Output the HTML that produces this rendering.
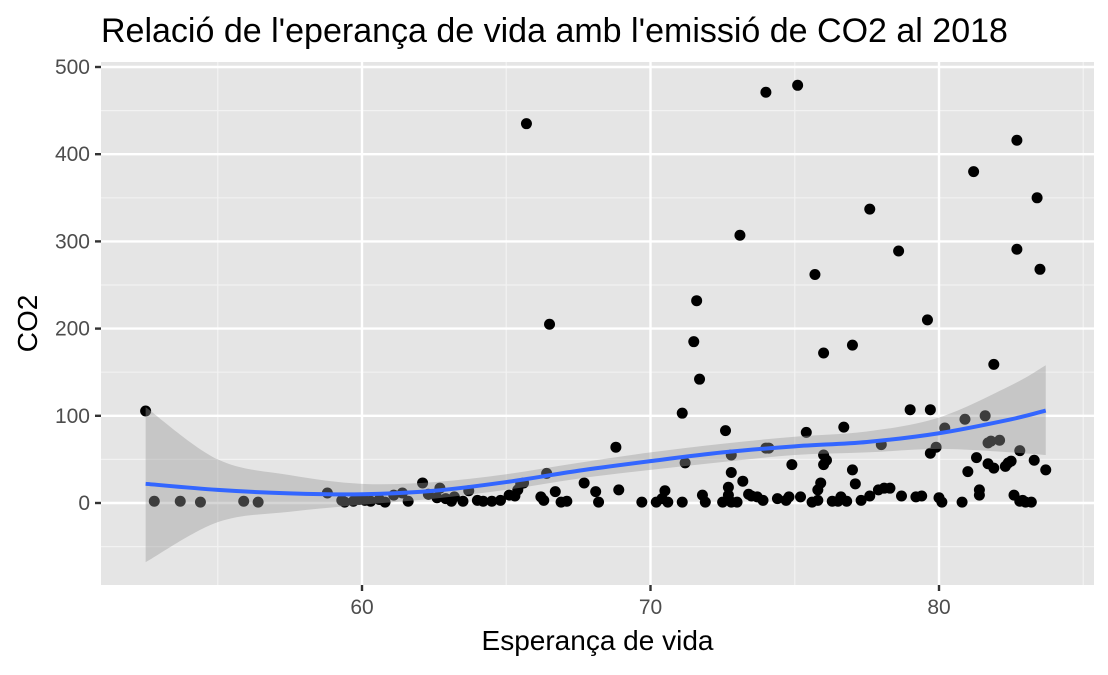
<!DOCTYPE html>
<html><head><meta charset="utf-8"><style>
body{margin:0;background:#fff;width:1108px;height:670px;overflow:hidden}
svg text{font-family:"Liberation Sans",Arial,sans-serif}
</style></head><body>
<svg id="chart" width="1108" height="670" xmlns="http://www.w3.org/2000/svg"></svg>
<script>
const xTicks=[60,70,80];
const yTicks=[0,100,200,300,400,500];
const xs=[52.5,52.8,53.7,54.4,55.9,56.4,58.8,59.3,59.4,59.7,59.9,60.1,60.3,60.6,60.8,61.1,61.4,61.6,62.1,62.3,62.6,62.7,62.9,63.1,63.2,63.5,63.7,64.0,64.2,64.5,64.8,65.1,65.3,65.4,65.5,65.6,65.7,66.2,66.3,66.4,66.5,66.7,66.9,67.1,67.7,68.1,68.2,68.8,68.9,69.7,70.2,70.4,70.5,70.6,71.1,71.1,71.2,71.5,71.6,71.7,71.8,71.9,72.5,72.6,72.7,72.7,72.8,72.8,72.8,73.0,73.1,73.2,73.4,73.5,73.7,73.9,74.0,74.0,74.1,74.4,74.7,74.8,74.9,75.1,75.2,75.4,75.6,75.7,75.8,75.8,75.9,76.0,76.0,76.0,76.1,76.3,76.5,76.6,76.7,76.8,77.0,77.0,77.1,77.3,77.6,77.6,77.9,78.0,78.1,78.3,78.6,78.7,79.0,79.2,79.4,79.6,79.7,79.7,79.9,80.0,80.1,80.2,80.8,80.9,81.0,81.2,81.3,81.4,81.4,81.6,81.7,81.7,81.8,81.9,81.9,82.1,82.3,82.4,82.5,82.6,82.7,82.7,82.8,82.9,83.0,83.2,83.3,83.4,83.5,83.7,82.8];
const ys=[105.5,2,2,1,2,1,11.5,3,1,2,4,3,2,4,1,9,11.5,2,23,10,6,17,5,2,7,2,14,3,2,2,3,9,8,15,22,23,435,7,3,34,205,13,1,2,23,13,1,64,15,1,1,5,14,1,1,103,46,185,232,142,9,1,1,83,9,18,35,55,1,1,307,25,10,8,7,3,471,63,63,5,3,7,44,479,7,81,1,262,3,15,23,44,55,172,49,2,2,7,87,2,181,38,22,3,337,8,15,67,17,17,289,8,107,7,8,210,57,107,64,6,1,86,1,96,36,380,52,15,9,100,69,45,71,159,40,72,42,46,48,9,291,416,2,3,1,1,49,350,268,38,60];
const fitX=[52.5,55,57.5,60,62.5,65,67.5,70,72.5,75,77.5,80,82.5,83.7];
const fitY=[22,15,11,10,14,24,37,48,58,65,70,80,96,106];
const fitLo=[-68,-22,-10,-2,5,15,28,38,47,55,58,62,58,55];
const fitHi=[110,50,32,22,24,33,46,58,68,76,82,98,135,158];

const L=101,R=1094,T=62,B=585;
const sx=v=>362+(v-60)*28.85;
const sy=v=>503-v*0.872;
const svg=document.getElementById('chart');
const NS='http://www.w3.org/2000/svg';
function mk(tag,attrs,parent){const e=document.createElementNS(NS,tag);for(const k in attrs)e.setAttribute(k,attrs[k]);(parent||svg).appendChild(e);return e;}
function smooth(pts,start){
 let d=(start?'M':'L')+pts[0][0]+','+pts[0][1];
 for(let i=0;i<pts.length-1;i++){
  const p0=pts[Math.max(0,i-1)],p1=pts[i],p2=pts[i+1],p3=pts[Math.min(pts.length-1,i+2)];
  const c1=[p1[0]+(p2[0]-p0[0])/6,p1[1]+(p2[1]-p0[1])/6];
  const c2=[p2[0]-(p3[0]-p1[0])/6,p2[1]-(p3[1]-p1[1])/6];
  d+='C'+c1+' '+c2+' '+p2;
 }
 return d;
}

const panel=mk('rect',{x:L,y:T,width:R-L,height:B-T,fill:'#e5e5e5'});


[55,65,75,85].forEach(v=>{const g=mk('line',{x1:sx(v),x2:sx(v),y1:T,y2:B,stroke:'#f2f2f2','stroke-width':1.2});});
[-50,50,150,250,350,450].forEach(v=>{const g=mk('line',{x1:L,x2:R,y1:sy(v),y2:sy(v),stroke:'#f2f2f2','stroke-width':1.2});});
xTicks.forEach(v=>{
 const g=mk('line',{x1:sx(v),x2:sx(v),y1:T,y2:B,stroke:'#fff','stroke-width':2.4});
 const t=mk('line',{x1:sx(v),x2:sx(v),y1:B,y2:B+6,stroke:'#333','stroke-width':2.4});
 const l=mk('text',{x:sx(v),y:B+29,'text-anchor':'middle','font-size':21,fill:'#4d4d4d'});l.textContent=v;
});
yTicks.forEach(v=>{
 const g=mk('line',{x1:L,x2:R,y1:sy(v),y2:sy(v),stroke:'#fff','stroke-width':2.4});
 const t=mk('line',{x1:L-6,x2:L,y1:sy(v),y2:sy(v),stroke:'#333','stroke-width':2.4});
 const l=mk('text',{x:L-11,y:sy(v)+7,'text-anchor':'end','font-size':21,fill:'#4d4d4d'});l.textContent=v;
});
xs.forEach((x,i)=>{const c=mk('circle',{cx:sx(x),cy:sy(ys[i]),r:5.5,fill:'#000'});});
const hi=fitX.map((x,i)=>[sx(x),sy(fitHi[i])]);
const lo=fitX.map((x,i)=>[sx(x),sy(fitLo[i])]).reverse();
const band=mk('path',{d:smooth(hi,true)+smooth(lo,false)+'Z',fill:'#999','fill-opacity':0.4});


const line=mk('path',{d:smooth(fitX.map((x,i)=>[sx(x),sy(fitY[i])]),true),fill:'none',stroke:'#3366ff','stroke-width':4});


const title=mk('text',{x:101,y:42,'font-size':34,fill:'#000'});title.textContent="Relació de l'eperança de vida amb l'emissió de CO2 al 2018";


const xt=mk('text',{x:(L+R)/2,y:650,'text-anchor':'middle','font-size':28,fill:'#000'});xt.textContent='Esperança de vida';


const yt=mk('text',{x:0,y:0,'text-anchor':'middle','font-size':28,fill:'#000',transform:'translate(37,'+((T+B)/2)+') rotate(-90)'});yt.textContent='CO2';


</script>
</body></html>
